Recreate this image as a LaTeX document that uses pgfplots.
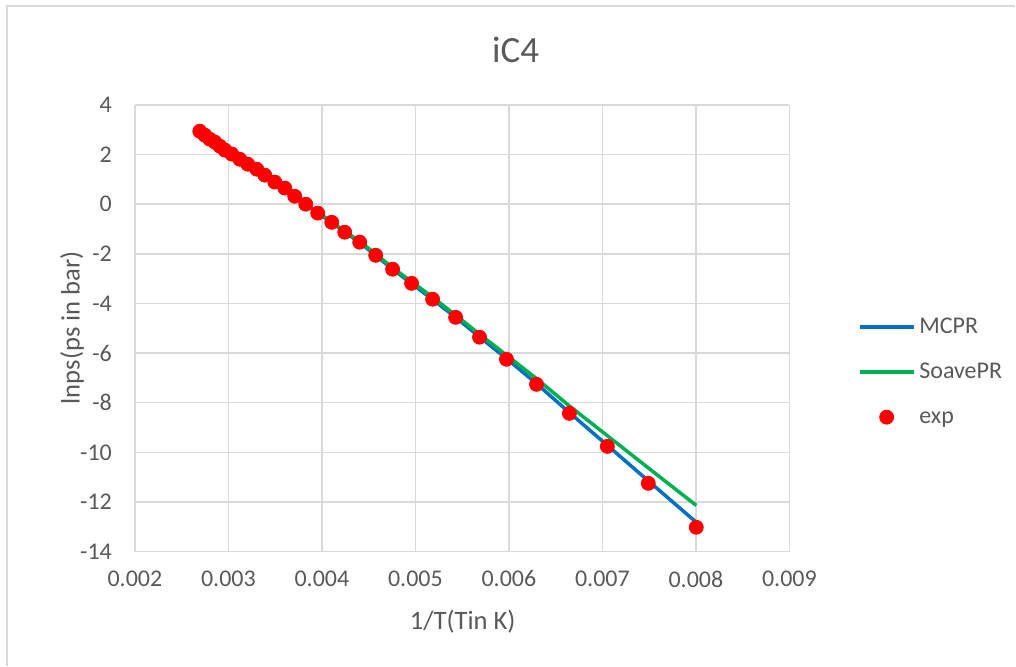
\documentclass[border=0pt]{standalone}
\usepackage{fontspec}
\setmainfont{Carlito}
\usepackage{pgfplots}
\usepackage{pgfplotstable}
\pgfplotsset{compat=1.18}
\definecolor{xlblue}{RGB}{0,112,192}
\definecolor{xlgreen}{RGB}{0,176,80}
\definecolor{gridgray}{RGB}{217,217,217}
\definecolor{labelgray}{RGB}{89,89,89}

\pgfplotstableread{
x y
0.002694 2.94
0.002748 2.78
0.002801 2.62
0.002855 2.50
0.002908 2.34
0.002962 2.18
0.003036 2.02
0.003122 1.81
0.003207 1.61
0.003303 1.41
0.003389 1.17
0.003496 0.89
0.003603 0.65
0.003709 0.32
0.003827 0.00
0.003955 -0.36
0.004105 -0.73
0.004244 -1.13
0.004404 -1.53
0.004575 -2.06
0.004756 -2.62
0.004959 -3.19
0.005184 -3.83
0.005430 -4.56
0.005686 -5.36
0.005974 -6.25
0.006295 -7.26
0.006647 -8.43
0.007053 -9.76
0.007491 -11.25
0.008004 -13.02
}\expdata

\pgfplotstableread{
x y
0.002694 2.94
0.002748 2.78
0.002801 2.62
0.002855 2.50
0.002908 2.34
0.002962 2.18
0.003036 2.02
0.003122 1.81
0.003207 1.61
0.003303 1.41
0.003389 1.17
0.003496 0.89
0.003603 0.65
0.003709 0.32
0.003827 0.00
0.003955 -0.36
0.004105 -0.73
0.004244 -1.13
0.004404 -1.54
0.004575 -2.07
0.004756 -2.62
0.004959 -3.20
0.005184 -3.84
0.005430 -4.56
0.005686 -5.35
0.005974 -6.22
0.006295 -7.23
0.006647 -8.40
0.007053 -9.72
0.007491 -11.15
0.008004 -12.82
}\mcpr

\pgfplotstableread{
x y
0.002694 2.94
0.002748 2.78
0.002801 2.62
0.002855 2.50
0.002908 2.34
0.002962 2.18
0.003036 2.02
0.003122 1.81
0.003207 1.61
0.003303 1.41
0.003389 1.17
0.003496 0.89
0.003603 0.65
0.003709 0.32
0.003827 0.00
0.003955 -0.34
0.004105 -0.70
0.004244 -1.10
0.004404 -1.49
0.004575 -2.01
0.004756 -2.56
0.004959 -3.12
0.005184 -3.75
0.005430 -4.47
0.005686 -5.24
0.005974 -6.08
0.006295 -7.03
0.006647 -8.13
0.007053 -9.33
0.007491 -10.63
0.008004 -12.14
}\soave

\begin{document}
\begin{tikzpicture}[x=1pt,y=1pt]
\path (0,0) rectangle (508,333);
\draw[gridgray, line width=0.75pt] (3.5,0) -- (3.5,330) -- (508,330);
\node[font=\fontsize{18.5}{22}\selectfont, text=labelgray] at (258,308) {iC4};
\node[font=\fontsize{13.3}{16}\selectfont, text=labelgray, rotate=90] at (36,169) {lnps(ps in bar)};
\node[font=\fontsize{13.3}{16}\selectfont, text=labelgray] at (231.5,22) {1/T(Tin K)};
\begin{axis}[
  at={(67.5pt,57pt)}, anchor=south west,
  scale only axis, width=327.5pt, height=223.5pt,
  xmin=0.002, xmax=0.009, ymin=-14, ymax=4,
  xtick={0.002,0.003,0.004,0.005,0.006,0.007,0.008,0.009},
  xticklabels={0.002,0.003,0.004,0.005,0.006,0.007,0.008,0.009},
  ytick={-14,-12,-10,-8,-6,-4,-2,0,2,4},
  yticklabels={-14,-12,-10,-8,-6,-4,-2,0,2,4},
  scaled x ticks=false,
  grid=major,
  major grid style={color=gridgray, line width=0.75pt},
  axis line style={draw=none},
  major tick length=0pt,
  tick label style={font=\fontsize{12}{14}\selectfont, text=labelgray},
  yticklabel style={xshift=-8pt},
  xticklabel style={yshift=-6pt},
  legend style={at={(1.104,0.4016)}, anchor=west, draw=none, fill=none,
    font=\fontsize{12}{14}\selectfont, text=labelgray, row sep=6.5pt,
    inner sep=0pt, nodes={inner sep=2pt, text height=9pt, text depth=3pt}},
  legend cell align=left,
  legend image code/.code={\draw[mark repeat=2,mark phase=2,#1] plot coordinates {(0cm,0cm) (0.475cm,0cm) (0.95cm,0cm)};},
  clip=false,
]
\addplot[xlblue, line width=1.75pt, no markers] table[x=x,y=y] {\mcpr};
\addlegendentry{MCPR}
\addplot[xlgreen, line width=1.75pt, no markers] table[x=x,y=y] {\soave};
\addlegendentry{SoavePR}
\addplot[only marks, mark=*, mark size=3.5pt, color=red, fill=red] table[x=x,y=y] {\expdata};
\addlegendentry{exp}
\end{axis}
\end{tikzpicture}
\end{document}
